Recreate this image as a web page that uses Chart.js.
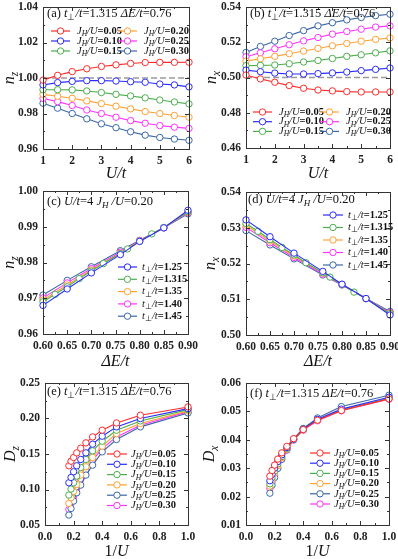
<!DOCTYPE html>
<html><head><meta charset="utf-8">
<script src="https://cdn.jsdelivr.net/npm/chart.js@4.4.1/dist/chart.umd.min.js"></script>
<style>
html,body{margin:0;padding:0;background:#fff;width:398px;height:559px;overflow:hidden;position:relative}
canvas{position:absolute}
</style></head><body>
<canvas id="pa"></canvas><canvas id="pb"></canvas><canvas id="pc"></canvas>
<canvas id="pd"></canvas><canvas id="pe"></canvas><canvas id="pf"></canvas>
<script>
// ---------------- DATA ----------------
const U_vals = [1, 1.5, 2, 2.5, 3, 3.5, 4, 4.5, 5, 5.5, 6];
const JH_vals = ['0.05', '0.10', '0.15', '0.20', '0.25', '0.30'];
// (a) n_z vs U/t
const nzA_J005 = [0.9988, 1.0015, 1.0036, 1.0052, 1.0065, 1.0074, 1.0082, 1.0087, 1.0088, 1.0088, 1.0089];
const nzA_J010 = [0.9961, 0.9974, 0.9981, 0.9985, 0.9985, 0.9983, 0.9979, 0.9976, 0.9966, 0.9961, 0.9950];
const nzA_J015 = [0.9934, 0.9934, 0.9933, 0.9927, 0.9918, 0.9908, 0.9899, 0.9888, 0.9876, 0.9865, 0.9854];
const nzA_J020 = [0.9908, 0.9897, 0.9886, 0.9871, 0.9856, 0.9841, 0.9826, 0.9811, 0.9800, 0.9789, 0.9779];
const nzA_J025 = [0.9885, 0.9867, 0.9845, 0.9820, 0.9800, 0.9779, 0.9760, 0.9745, 0.9732, 0.9723, 0.9716];
const nzA_J030 = [0.9858, 0.9830, 0.9800, 0.9770, 0.9742, 0.9720, 0.9697, 0.9678, 0.9665, 0.9656, 0.9649];
// (b) n_x vs U/t
const nxB_J005 = [0.5014, 0.4992, 0.4973, 0.4954, 0.4939, 0.4929, 0.4924, 0.4920, 0.4918, 0.4918, 0.4918];
const nxB_J010 = [0.5042, 0.5033, 0.5025, 0.5020, 0.5020, 0.5022, 0.5026, 0.5031, 0.5039, 0.5046, 0.5054];
const nxB_J015 = [0.5067, 0.5069, 0.5071, 0.5078, 0.5088, 0.5097, 0.5108, 0.5120, 0.5129, 0.5140, 0.5151];
const nxB_J020 = [0.5093, 0.5106, 0.5120, 0.5135, 0.5150, 0.5165, 0.5180, 0.5193, 0.5206, 0.5216, 0.5225];
const nxB_J025 = [0.5118, 0.5140, 0.5163, 0.5186, 0.5208, 0.5227, 0.5246, 0.5261, 0.5274, 0.5286, 0.5293];
const nxB_J030 = [0.5142, 0.5176, 0.5206, 0.5238, 0.5266, 0.5293, 0.5311, 0.5327, 0.5340, 0.5351, 0.5359];
// (c),(d) vs ΔE/t
const dE_vals = [0.60, 0.65, 0.70, 0.76, 0.80, 0.85, 0.90];
const dE_fine = [0.60, 0.625, 0.65, 0.675, 0.70, 0.725, 0.76, 0.775, 0.80, 0.825, 0.85, 0.90];
const tp_vals = ['1.25', '1.315', '1.35', '1.40', '1.45'];
const nzC_t125 = [0.9680, 0.9726, 0.9771, 0.9822, 0.9859, 0.9897, 0.9946];
const nzC_t1315 = [0.9690, 0.9711, 0.9732, 0.9755, 0.9776, 0.9797, 0.9825, 0.9838, 0.9859, 0.9880, 0.9898, 0.9942];
const nzC_t135 = [0.9695, 0.9737, 0.9779, 0.9826, 0.9860, 0.9897, 0.9941];
const nzC_t140 = [0.9701, 0.9743, 0.9783, 0.9829, 0.9861, 0.9897, 0.9939];
const nzC_t145 = [0.9709, 0.9750, 0.9788, 0.9833, 0.9862, 0.9897, 0.9936];
const nxD_t125 = [0.5322, 0.5275, 0.5229, 0.5178, 0.5142, 0.5102, 0.5056];
const nxD_t1315 = [0.5312, 0.5290, 0.5267, 0.5245, 0.5224, 0.5202, 0.5174, 0.5162, 0.5142, 0.5120, 0.5102, 0.5060];
const nxD_t135 = [0.5307, 0.5263, 0.5221, 0.5173, 0.5141, 0.5102, 0.5061];
const nxD_t140 = [0.5301, 0.5258, 0.5217, 0.5170, 0.5141, 0.5102, 0.5063];
const nxD_t145 = [0.5292, 0.5252, 0.5213, 0.5168, 0.5140, 0.5102, 0.5066];
// (e),(f) vs 1/U
const invU_vals = [0.167, 0.182, 0.2, 0.222, 0.25, 0.286, 0.333, 0.4, 0.5, 0.667, 1.0];
const DzE_J005 = [0.1334, 0.1399, 0.1451, 0.1516, 0.1582, 0.1657, 0.1741, 0.1835, 0.1938, 0.2046, 0.2163];
const DzE_J010 = [0.1095, 0.1170, 0.1250, 0.1334, 0.1423, 0.1516, 0.1638, 0.1751, 0.1882, 0.1999, 0.2139];
const DzE_J015 = [0.0922, 0.1006, 0.1095, 0.1189, 0.1310, 0.1423, 0.1545, 0.1680, 0.1835, 0.1966, 0.2125];
const DzE_J020 = [0.0804, 0.0884, 0.0973, 0.1071, 0.1203, 0.1320, 0.1451, 0.1610, 0.1788, 0.1929, 0.2107];
const DzE_J025 = [0.0640, 0.0733, 0.0837, 0.0954, 0.1062, 0.1203, 0.1343, 0.1530, 0.1704, 0.1882, 0.2078];
const DzE_J030 = [0.0720, 0.0804, 0.0898, 0.1015, 0.1142, 0.1273, 0.1413, 0.1577, 0.1741, 0.1905, 0.2093];
const DxF_J005 = [0.0272, 0.0292, 0.0311, 0.0332, 0.0354, 0.0377, 0.0404, 0.0436, 0.0469, 0.0503, 0.0544];
const DxF_J010 = [0.0256, 0.0278, 0.0300, 0.0323, 0.0347, 0.0373, 0.0402, 0.0437, 0.0472, 0.0508, 0.0550];
const DxF_J015 = [0.0245, 0.0267, 0.0290, 0.0315, 0.0341, 0.0370, 0.0401, 0.0436, 0.0470, 0.0505, 0.0546];
const DxF_J020 = [0.0237, 0.0259, 0.0283, 0.0309, 0.0337, 0.0367, 0.0400, 0.0435, 0.0469, 0.0504, 0.0545];
const DxF_J025 = [0.0212, 0.0240, 0.0267, 0.0299, 0.0331, 0.0365, 0.0403, 0.0440, 0.0477, 0.0517, 0.0557];
const DxF_J030 = [0.0228, 0.0252, 0.0276, 0.0303, 0.0332, 0.0364, 0.0399, 0.0434, 0.0467, 0.0502, 0.0543];
const refLineA = [1.00, 1.00];
const refLineB = [0.50, 0.50];
const refLineX = [1, 6];

// ---------------- STYLE ----------------
const RED = '#ff2b2b', BLUE = '#2b2bff', GREEN = '#4cae4c', ORANGE = '#ffa033', MAG = '#ff33ff', STEEL = '#3a68a6';
const COLS_AB = [RED, BLUE, GREEN, ORANGE, MAG, STEEL];
const COLS_EF = [RED, BLUE, GREEN, ORANGE, STEEL, MAG];
const COLS_CD = [BLUE, GREEN, ORANGE, MAG, STEEL];
const FAM = '"Liberation Serif", "Times New Roman", serif';

function fontStr(p, base) {
  const size = p.sub ? base * 0.72 : base;
  return (p.i ? 'italic ' : '') + (p.b ? 'bold ' : '') + size + 'px ' + FAM;
}
function richWidth(ctx, parts, base) {
  let w = 0;
  for (const p of parts) { ctx.font = fontStr(p, base); w += ctx.measureText(p.t).width; }
  return w;
}
function drawRich(ctx, parts, x, y, base, align) {
  const w = richWidth(ctx, parts, base);
  let cx = align === 'center' ? x - w / 2 : (align === 'right' ? x - w : x);
  ctx.textBaseline = 'middle'; ctx.textAlign = 'left';
  for (const p of parts) {
    ctx.font = fontStr(p, base);
    ctx.fillText(p.t, cx, y + (p.sub ? base * 0.28 : 0));
    cx += ctx.measureText(p.t).width;
  }
}
const jhParts = v => [{t: 'J', i: 1}, {t: 'H', i: 1, sub: 1}, {t: '/U', i: 1}, {t: '=' + v, b: 1}];
const tpParts = v => [{t: 't', i: 1}, {t: '\u22A5', sub: 1}, {t: '/t', i: 1}, {t: '=' + v, b: 1}];
const labA = L => [{t: '(' + L + ') '}, {t: 't', i: 1}, {t: '\u22A5', sub: 1}, {t: '/t', i: 1}, {t: '=1.315 '}, {t: '\u0394E/t', i: 1}, {t: '=0.76'}];
const labC = L => [{t: '(' + L + ') '}, {t: 'U/t', i: 1}, {t: '=4 '}, {t: 'J', i: 1}, {t: 'H', i: 1, sub: 1}, {t: ' /U', i: 1}, {t: '=0.20'}];

const deco = {
  id: 'deco',
  afterDraw(chart, args, o) {
    const ctx = chart.ctx;
    const ca = chart.chartArea;
    const ox = o.cv.l, oy = o.cv.t;
    ctx.save();
    // inward ticks
    ctx.strokeStyle = '#333'; ctx.lineWidth = 1;
    const xs = chart.scales.x, ys = chart.scales.y;
    const near = (v, s) => Math.abs(v / s - Math.round(v / s)) < 1e-6;
    ctx.beginPath();
    for (let k = 0; ; k++) {
      const v = xs.min + k * o.minorX; if (v > xs.max + 1e-9) break;
      const px = Math.round(xs.getPixelForValue(v)) + 0.5;
      const len = near(v - xs.min, o.majorX) ? 4 : 2;
      ctx.moveTo(px, ca.bottom); ctx.lineTo(px, ca.bottom - len);
      ctx.moveTo(px, ca.top); ctx.lineTo(px, ca.top + len);
    }
    for (let k = 0; ; k++) {
      const v = ys.min + k * o.minorY; if (v > ys.max + 1e-9) break;
      const py = Math.round(ys.getPixelForValue(v)) + 0.5;
      const len = near(v - ys.min, o.majorY) ? 4 : 2;
      ctx.moveTo(ca.left, py); ctx.lineTo(ca.left + len, py);
      ctx.moveTo(ca.right, py); ctx.lineTo(ca.right - len, py);
    }
    ctx.stroke();
    // frame
    ctx.strokeStyle = '#333'; ctx.lineWidth = 1;
    ctx.strokeRect(Math.round(ca.left) + 0.5, Math.round(ca.top) + 0.5, Math.round(ca.right - ca.left), Math.round(ca.bottom - ca.top));
    // panel label
    ctx.fillStyle = '#111';
    drawRich(ctx, o.label, o.labelPos[0] - ox, o.labelPos[1] - oy, 12.5, 'left');
    // axis titles
    drawRich(ctx, o.xTitle, (ca.left + ca.right) / 2, o.xTitleY - oy, 16, 'center');
    ctx.save();
    ctx.translate(o.yTitleX - ox, (ca.top + ca.bottom) / 2);
    ctx.rotate(-Math.PI / 2);
    drawRich(ctx, o.yTitle, 0, 0, 16, 'center');
    ctx.restore();
    // legend
    const lg = o.legend;
    const items = chart.data.datasets.filter(d => !d.isRef);
    items.forEach((d, i) => {
      const col = Math.floor(i / lg.rows), row = i % lg.rows;
      const x0 = lg.x + col * (lg.colW || 0) - ox;
      const y0 = lg.y + row * lg.rowH - oy;
      ctx.strokeStyle = d.borderColor; ctx.lineWidth = 1.2;
      ctx.beginPath(); ctx.moveTo(x0, y0); ctx.lineTo(x0 + lg.len, y0); ctx.stroke();
      ctx.beginPath(); ctx.arc(x0 + lg.len / 2, y0, 3.2, 0, Math.PI * 2);
      ctx.fillStyle = '#fff'; ctx.fill(); ctx.lineWidth = 1; ctx.stroke();
      ctx.fillStyle = '#111';
      drawRich(ctx, d.legendParts, x0 + lg.gap, y0, lg.size, 'left');
    });
    ctx.restore();
  }
};

function series(label, parts, xs, ys, color) {
  return {
    label: label, legendParts: parts,
    data: xs.map((x, i) => ({x: x, y: ys[i]})),
    borderColor: color, backgroundColor: '#fff',
    pointBackgroundColor: '#fff', pointBorderColor: color,
    pointRadius: 3.2, pointBorderWidth: 1, borderWidth: 1.1,
    tension: 0, clip: false, order: 1
  };
}
function refSeries(xs, ys) {
  return {label: '', isRef: true, data: xs.map((x, i) => ({x: x, y: ys[i]})),
    borderColor: '#9a9a9a', borderDash: [6, 3], borderWidth: 1.6, pointRadius: 0, order: 10, clip: false};
}

function makePanel(id, cv, area, sx, sy, datasets, deco_o) {
  const el = document.getElementById(id);
  el.width = cv.w; el.height = cv.h;
  el.style.left = cv.l + 'px'; el.style.top = cv.t + 'px';
  const Wy = area.L - cv.l, Hx = cv.t + cv.h - area.B;
  const tickFont = {family: FAM, size: 11.5, weight: 'bold'};
  deco_o.cv = cv;
  deco_o.minorX = sx.minor; deco_o.majorX = sx.step;
  deco_o.minorY = sy.minor; deco_o.majorY = sy.step;
  new Chart(el, {
    type: 'line',
    data: {datasets: datasets},
    options: {
      responsive: false, maintainAspectRatio: false, animation: false, devicePixelRatio: 1,
      layout: {padding: {left: 0, top: area.T - cv.t, right: cv.l + cv.w - area.R, bottom: 0}},
      plugins: {legend: {display: false}, tooltip: {enabled: false}, deco: deco_o},
      scales: {
        x: {type: 'linear', min: sx.min, max: sx.max,
          afterFit: s => { s.height = Hx; s.paddingLeft = 0; s.paddingRight = 0; },
          grid: {display: false, drawTicks: false}, border: {display: false},
          ticks: {stepSize: sx.step, autoSkip: false, maxRotation: 0, padding: 5, color: '#222', font: tickFont,
            callback: v => Number(v).toFixed(sx.dec)}},
        y: {type: 'linear', min: sy.min, max: sy.max,
          afterFit: s => { s.width = Wy; s.paddingTop = 0; s.paddingBottom = 0; },
          grid: {display: false, drawTicks: false}, border: {display: false},
          ticks: {stepSize: sy.step, autoSkip: false, padding: 5, color: '#222', font: tickFont,
            callback: v => Number(v).toFixed(sy.dec)}}
      }
    },
    plugins: [deco]
  });
}

const nzA = [nzA_J005, nzA_J010, nzA_J015, nzA_J020, nzA_J025, nzA_J030];
const nxB = [nxB_J005, nxB_J010, nxB_J015, nxB_J020, nxB_J025, nxB_J030];
const nzC = [nzC_t125, nzC_t1315, nzC_t135, nzC_t140, nzC_t145];
const nxD = [nxD_t125, nxD_t1315, nxD_t135, nxD_t140, nxD_t145];
const DzE = [DzE_J005, DzE_J010, DzE_J015, DzE_J020, DzE_J025, DzE_J030];
const DxF = [DxF_J005, DxF_J010, DxF_J015, DxF_J020, DxF_J025, DxF_J030];

const tU = [{t: 'U/t', i: 1}];
const tdE = [{t: '\u0394E/t', i: 1}];
const tinv = [{t: '1/'}, {t: 'U', i: 1}];

// (a)
makePanel('pa', {l: 0, t: 0, w: 199, h: 185}, {L: 43, T: 7, R: 189, B: 149},
  {min: 1, max: 6, step: 1, minor: 0.5, dec: 0}, {min: 0.96, max: 1.04, step: 0.02, minor: 0.01, dec: 2},
  JH_vals.map((v, i) => series(v, jhParts(v), U_vals, nzA[i], COLS_AB[i])).concat([refSeries(refLineX, refLineA)]),
  {label: labA('a'), labelPos: [47, 14], xTitle: tU, xTitleY: 174, yTitle: [{t: 'n', i: 1}, {t: 'z', i: 1, sub: 1}], yTitleX: 10,
   legend: {x: 51, y: 31, rows: 3, rowH: 10, colW: 67, len: 19, gap: 26, size: 10.5}});
// (b)
makePanel('pb', {l: 199, t: 0, w: 199, h: 185}, {L: 246, T: 7, R: 390, B: 148},
  {min: 1, max: 6, step: 1, minor: 0.5, dec: 0}, {min: 0.46, max: 0.54, step: 0.02, minor: 0.01, dec: 2},
  JH_vals.map((v, i) => series(v, jhParts(v), U_vals, nxB[i], COLS_AB[i])).concat([refSeries(refLineX, refLineB)]),
  {label: labA('b'), labelPos: [250, 14], xTitle: tU, xTitleY: 174, yTitle: [{t: 'n', i: 1}, {t: 'x', i: 1, sub: 1}], yTitleX: 212,
   legend: {x: 253, y: 112, rows: 3, rowH: 9.7, colW: 67, len: 19, gap: 26, size: 10.5}});
// (c)
makePanel('pc', {l: 0, t: 185, w: 199, h: 185}, {L: 43, T: 191, R: 188, B: 334},
  {min: 0.60, max: 0.90, step: 0.05, minor: 0.025, dec: 2}, {min: 0.96, max: 1.00, step: 0.01, minor: 0.005, dec: 2},
  tp_vals.map((v, i) => series(v, tpParts(v), i === 1 ? dE_fine : dE_vals, nzC[i], COLS_CD[i])),
  {label: labC('c'), labelPos: [47, 202], xTitle: tdE, xTitleY: 362, yTitle: [{t: 'n', i: 1}, {t: 'z', i: 1, sub: 1}], yTitleX: 10,
   legend: {x: 118, y: 267, rows: 5, rowH: 12.3, len: 19, gap: 24, size: 10.5}});
// (d)
makePanel('pd', {l: 199, t: 185, w: 199, h: 185}, {L: 246, T: 192, R: 390, B: 335},
  {min: 0.60, max: 0.90, step: 0.05, minor: 0.025, dec: 2}, {min: 0.50, max: 0.54, step: 0.01, minor: 0.005, dec: 2},
  tp_vals.map((v, i) => series(v, tpParts(v), i === 1 ? dE_fine : dE_vals, nxD[i], COLS_CD[i])),
  {label: labC('d'), labelPos: [248, 200], xTitle: tdE, xTitleY: 362, yTitle: [{t: 'n', i: 1}, {t: 'x', i: 1, sub: 1}], yTitleX: 211,
   legend: {x: 323, y: 215, rows: 5, rowH: 12.5, len: 20, gap: 25, size: 10.5}});
// (e)
makePanel('pe', {l: 0, t: 370, w: 199, h: 189}, {L: 45, T: 383, R: 188, B: 525},
  {min: 0, max: 1, step: 0.2, minor: 0.1, dec: 1}, {min: 0.05, max: 0.25, step: 0.05, minor: 0.025, dec: 2},
  JH_vals.map((v, i) => series(v, jhParts(v), invU_vals, DzE[i], COLS_EF[i])),
  {label: labA('e'), labelPos: [47, 392], xTitle: tinv, xTitleY: 552, yTitle: [{t: 'D', i: 1}, {t: 'z', i: 1, sub: 1}], yTitleX: 11,
   legend: {x: 107, y: 454, rows: 6, rowH: 10.3, len: 20, gap: 24, size: 10.5}});
// (f)
makePanel('pf', {l: 199, t: 370, w: 199, h: 189}, {L: 246, T: 383, R: 389, B: 525},
  {min: 0, max: 1, step: 0.2, minor: 0.1, dec: 1}, {min: 0.01, max: 0.06, step: 0.01, minor: 0.005, dec: 2},
  JH_vals.map((v, i) => series(v, jhParts(v), invU_vals, DxF[i], COLS_EF[i])),
  {label: labA('f'), labelPos: [250, 394], xTitle: tinv, xTitleY: 552, yTitle: [{t: 'D', i: 1}, {t: 'x', i: 1, sub: 1}], yTitleX: 210,
   legend: {x: 310, y: 453, rows: 6, rowH: 10.2, len: 20, gap: 24, size: 10.5}});
</script>
</body></html>
